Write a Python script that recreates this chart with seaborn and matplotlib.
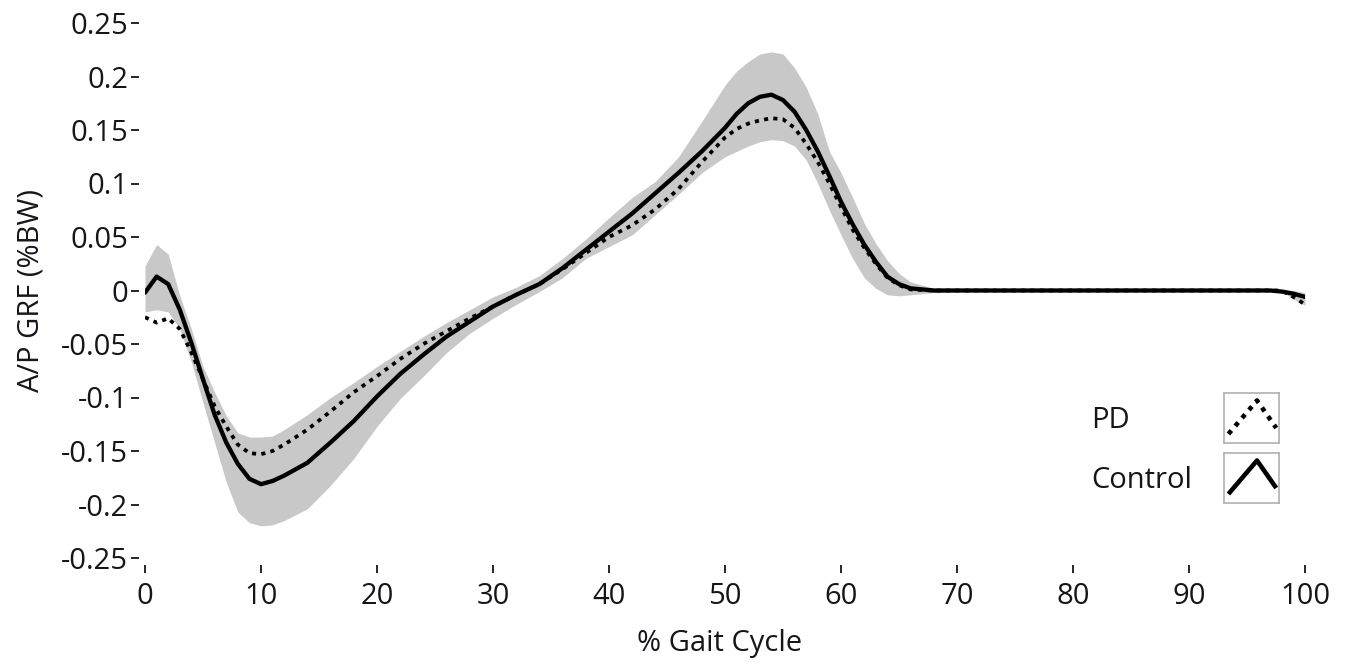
import numpy as np
import pandas as pd
import matplotlib
matplotlib.use("Agg")
import matplotlib.pyplot as plt
import seaborn as sns

# ---------------- data ----------------
gait_pct = [0, 1, 2, 3, 4, 5, 6, 7, 8, 9, 10, 11, 12, 14, 16, 18, 20, 22, 24, 26,
            28, 30, 32, 34, 36, 38, 40, 42, 44, 46, 48, 50, 51, 52, 53, 54, 55, 56,
            57, 58, 59, 60, 61, 62, 63, 64, 65, 66, 68, 70, 80, 90, 97, 98, 99, 100]

control_mean = [-0.002, 0.013, 0.006, -0.018, -0.049, -0.083, -0.116, -0.142, -0.162, -0.176,
                -0.181, -0.178, -0.173, -0.161, -0.142, -0.122, -0.099, -0.078, -0.060, -0.043,
                -0.029, -0.015, -0.004, 0.006, 0.021, 0.038, 0.055, 0.072, 0.091, 0.110,
                0.130, 0.152, 0.165, 0.175, 0.181, 0.183, 0.178, 0.167, 0.150, 0.130,
                0.107, 0.083, 0.062, 0.043, 0.027, 0.013, 0.006, 0.002, 0.0, 0.0,
                0.0, 0.0, 0.0, -0.001, -0.003, -0.006]

pd_mean = [-0.025, -0.030, -0.026, -0.036, -0.058, -0.083, -0.108, -0.127, -0.144, -0.152,
           -0.153, -0.150, -0.144, -0.130, -0.113, -0.095, -0.080, -0.064, -0.050, -0.038,
           -0.026, -0.015, -0.004, 0.006, 0.020, 0.035, 0.050, 0.061, 0.076, 0.095,
           0.120, 0.143, 0.151, 0.156, 0.159, 0.161, 0.160, 0.152, 0.137, 0.120,
           0.100, 0.078, 0.057, 0.040, 0.025, 0.012, 0.005, 0.001, 0.0, 0.0,
           0.0, 0.0, 0.0, 0.0, -0.006, -0.013]

band_upper = [0.023, 0.043, 0.034, -0.005, -0.036, -0.071, -0.095, -0.117, -0.133, -0.137,
              -0.137, -0.136, -0.130, -0.116, -0.100, -0.086, -0.071, -0.057, -0.043, -0.030,
              -0.018, -0.006, 0.003, 0.014, 0.030, 0.048, 0.068, 0.087, 0.102, 0.125,
              0.158, 0.192, 0.205, 0.214, 0.221, 0.223, 0.221, 0.208, 0.190, 0.165,
              0.130, 0.110, 0.087, 0.063, 0.044, 0.028, 0.016, 0.008, 0.002, 0.001,
              0.0, 0.0, 0.001, 0.001, 0.0, -0.002]

band_lower = [-0.020, -0.018, -0.020, -0.036, -0.067, -0.105, -0.142, -0.179, -0.207, -0.217,
              -0.220, -0.219, -0.215, -0.204, -0.182, -0.157, -0.127, -0.101, -0.080, -0.058,
              -0.040, -0.026, -0.013, -0.001, 0.012, 0.030, 0.041, 0.052, 0.071, 0.090,
              0.110, 0.125, 0.130, 0.135, 0.139, 0.141, 0.140, 0.135, 0.122, 0.100,
              0.075, 0.052, 0.030, 0.012, 0.002, -0.004, -0.005, -0.004, -0.002, -0.001,
              0.0, 0.0, -0.001, -0.001, -0.008, -0.014]

x_ticks = [0, 10, 20, 30, 40, 50, 60, 70, 80, 90, 100]
y_ticks = [0.25, 0.2, 0.15, 0.1, 0.05, 0, -0.05, -0.1, -0.15, -0.2, -0.25]
y_tick_labels = ["0.25", "0.2", "0.15", "0.1", "0.05", "0", "-0.05", "-0.1", "-0.15", "-0.2", "-0.25"]
series_names = ["PD", "Control"]

# ---------------- style ----------------
sns.set_theme(style="white")
plt.rcParams["font.family"] = ["Open Sans", "DejaVu Sans"]
TXT = "#15151c"
FS = 21

df = pd.DataFrame({"pct": gait_pct, "control": control_mean, "pd": pd_mean,
                   "upper": band_upper, "lower": band_lower})

fig = plt.figure(figsize=(13.5, 6.67), dpi=100)
ax = fig.add_axes([145 / 1350, (667 - 558) / 667, 1160 / 1350, 535 / 667])

ax.fill_between(df["pct"], df["lower"], df["upper"], color="#c8c8c8", linewidth=0, zorder=1)
sns.lineplot(data=df, x="pct", y="pd", ax=ax, color="black", linewidth=2.7,
             linestyle=(0, (1.1, 1.4)), dash_capstyle="butt", zorder=3)
sns.lineplot(data=df, x="pct", y="control", ax=ax, color="black", linewidth=3.1, zorder=4)

ax.set_xlim(0, 100)
ax.set_ylim(-0.25, 0.25)
ax.set_xticks(x_ticks)
ax.set_xticklabels([str(t) for t in x_ticks])
ax.set_yticks(y_ticks)
ax.set_yticklabels(y_tick_labels)

for s in ax.spines.values():
    s.set_visible(False)
ax.spines["left"].set_position(("outward", 4))
ax.spines["bottom"].set_position(("outward", 5))
ax.tick_params(axis="both", which="major", direction="out", length=6, width=1.3,
               colors=TXT, labelsize=FS, left=True, bottom=True)
ax.tick_params(axis="y", pad=2)
ax.tick_params(axis="x", pad=6)
for lab in ax.get_xticklabels() + ax.get_yticklabels():
    lab.set_color(TXT)

ax.set_xlabel("% Gait Cycle", fontsize=FS, color=TXT)
ax.set_ylabel("A/P GRF (%BW)", fontsize=FS, color=TXT)
ax.xaxis.set_label_coords(0.495, -0.133)
ax.yaxis.set_label_coords(-0.086, 0.5)

# ---------------- legend (LabVIEW style plot legend) ----------------
legend_rows = [(series_names[0], 393, dict(linestyle=(0, (1.0, 1.3)), linewidth=3.3)),
               (series_names[1], 453, dict(linestyle="-", linewidth=3.3))]
for name, top_px, style in legend_rows:
    fig.text(1091 / 1350, 1 - (top_px + 27) / 667, name, fontsize=FS, color=TXT,
             ha="left", va="center")
    bax = fig.add_axes([1224 / 1350, 1 - (top_px + 50) / 667, 55 / 1350, 50 / 667])
    bax.set_xlim(0, 1)
    bax.set_ylim(0, 1)
    bax.set_xticks([])
    bax.set_yticks([])
    for s in bax.spines.values():
        s.set_visible(True)
        s.set_color("#b0b0b0")
        s.set_linewidth(1.2)
    bax.plot([0.08, 0.6, 0.95], [0.18, 0.85, 0.3], color="black",
             solid_capstyle="butt", dash_capstyle="butt", **style)

fig.savefig("out.png", dpi=100, facecolor="white")
